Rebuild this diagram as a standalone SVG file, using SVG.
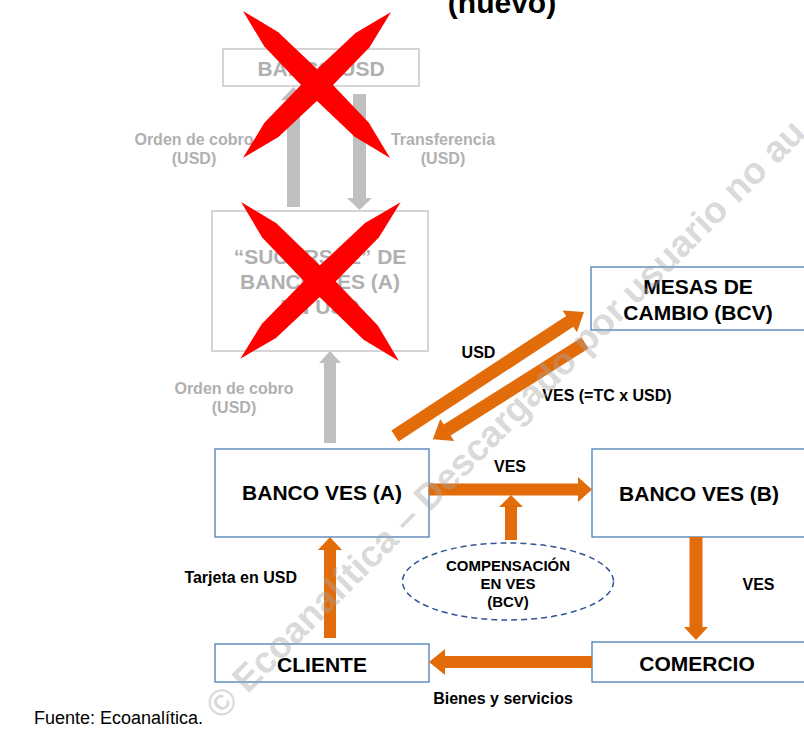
<svg xmlns="http://www.w3.org/2000/svg" width="804" height="729" viewBox="0 0 804 729">
<style>
text{font-family:"Liberation Sans",Arial,sans-serif;font-weight:bold;text-anchor:middle}
.node{font-size:21px;fill:#000}
.gnode{font-size:21px;fill:#b0b0b0}
.lbl{font-size:16px;fill:#000}
.glbl{font-size:16px;fill:#b0b0b0}
.box{fill:#fff;stroke:#4a7db5;stroke-width:1.3}
.gbox{fill:#fff;stroke:#c8c8c8;stroke-width:1.5}
.ga{fill:#bfbfbf}
.oa{fill:#e36c0a}
.x{fill:#ff0000}
</style>
<rect width="804" height="729" fill="#fff"/>
<text x="502" y="13" style="font-size:30px">(nuevo)</text>

<g id="banco-usd"><rect class="gbox" x="223" y="49" width="196" height="37"/><text class="gnode" x="321" y="76">BANCO USD</text></g>
<g id="sucursal"><rect class="gbox" x="212" y="211" width="216" height="140"/><text class="gnode" x="320" y="264">“SUCURSAL” DE</text><text class="gnode" x="320" y="289">BANCO VES (A)</text><text class="gnode" x="320" y="314">EN USD</text></g>
<g id="mesas"><rect class="box" x="591" y="267" width="215" height="63"/><text class="node" x="698" y="294">MESAS DE</text><text class="node" x="698" y="320">CAMBIO (BCV)</text></g>
<g id="banco-a"><rect class="box" x="215" y="449" width="214" height="88"/><text class="node" x="322" y="500">BANCO VES (A)</text></g>
<g id="banco-b"><rect class="box" x="592" y="449" width="214" height="88"/><text class="node" x="699" y="501">BANCO VES (B)</text></g>
<g id="compensacion"><ellipse cx="508" cy="581.5" rx="105.5" ry="38.5" fill="none" stroke="#2f5496" stroke-width="1.5" stroke-dasharray="6 4"/><text x="508" y="571" style="font-size:15px">COMPENSACIÓN</text><text x="508" y="589" style="font-size:15px">EN VES</text><text x="508" y="607" style="font-size:15px">(BCV)</text></g>
<g id="cliente"><rect class="box" x="215" y="644" width="214" height="38"/><text class="node" x="322" y="672">CLIENTE</text></g>
<g id="comercio"><rect class="box" x="592" y="642" width="214" height="40"/><text class="node" x="697" y="671">COMERCIO</text></g>

<g id="connectors">
<polygon class="ga" points="287,207 300,207 300,100 306,100 293.5,87 281,100 287,100"/>
<polygon class="ga" points="353,94 366,94 366,198 372,198 359.5,210 347,198 353,198"/>
<polygon class="ga" points="324,443 336,443 336,363 341,363 330,351 319,363 324,363"/>
<polygon class="oa" points="324,638 336,638 336,550 342,550 330,537 318,550 324,550"/>
<polygon class="oa" points="429,483.5 578,483.5 578,477 592,489.5 578,502 578,495.5 429,495.5"/>
<polygon class="oa" points="505,540 517,540 517,507 523,507 511,495 499,507 505,507"/>
<polygon class="oa" points="689.5,537 702.5,537 702.5,627 708,627 696,640 684,627 689.5,627"/>
<polygon class="oa" points="592,656 445,656 445,649 429,662 445,675 445,668 592,668"/>
<polygon class="oa" transform="translate(395,436) rotate(-33.27)" points="0,-6.5 209,-6.5 209,-13 226,0 209,13 209,6.5 0,6.5"/>
<polygon class="oa" transform="translate(585,343) rotate(147.72)" points="0,-6.5 163,-6.5 163,-13 180,0 163,13 163,6.5 0,6.5"/>
<text class="glbl" x="194" y="145">Orden de cobro</text><text class="glbl" x="194" y="164">(USD)</text>
<text class="glbl" x="443" y="145">Transferencia</text><text class="glbl" x="443" y="164">(USD)</text>
<text class="glbl" x="234" y="394">Orden de cobro</text><text class="glbl" x="234" y="413">(USD)</text>
<text class="lbl" x="478.5" y="358">USD</text>
<text class="lbl" x="607" y="401">VES (=TC x USD)</text>
<text class="lbl" x="510" y="472">VES</text>
<text class="lbl" x="297" y="583" style="text-anchor:end">Tarjeta en USD</text>
<text class="lbl" x="758.5" y="590">VES</text>
<text class="lbl" x="503" y="704">Bienes y servicios</text>
</g>

<g id="cross-banco-usd">
<path class="x" transform="translate(316.5,84.5) rotate(45)" d="M-104 0 L-64 -10 L0 -11.5 L64 -10 L104 0 L64 10 L0 11.5 L-64 10 Z"/>
<path class="x" transform="translate(317,85) rotate(135.4)" d="M-104 0 L-64 -10 L0 -11.5 L64 -10 L104 0 L64 10 L0 11.5 L-64 10 Z"/>
</g>
<g id="cross-sucursal">
<path class="x" transform="translate(320,281.5) rotate(45.2)" d="M-112 0 L-72 -10 L0 -11.5 L72 -10 L112 0 L72 10 L0 11.5 L-72 10 Z"/>
<path class="x" transform="translate(320.5,280.5) rotate(135.7)" d="M-112 0 L-72 -10 L0 -11.5 L72 -10 L112 0 L72 10 L0 11.5 L-72 10 Z"/>
</g>

<text x="203" y="724" style="font-size:18px;font-weight:normal;text-anchor:end">Fuente: Ecoanalítica.</text>

<text transform="translate(221,721) rotate(-45)" x="0" y="0" style="font-size:37px;text-anchor:start;fill:#a6a6a6;fill-opacity:0.42">© Ecoanalítica – Descargado por usuario no au</text>
</svg>
